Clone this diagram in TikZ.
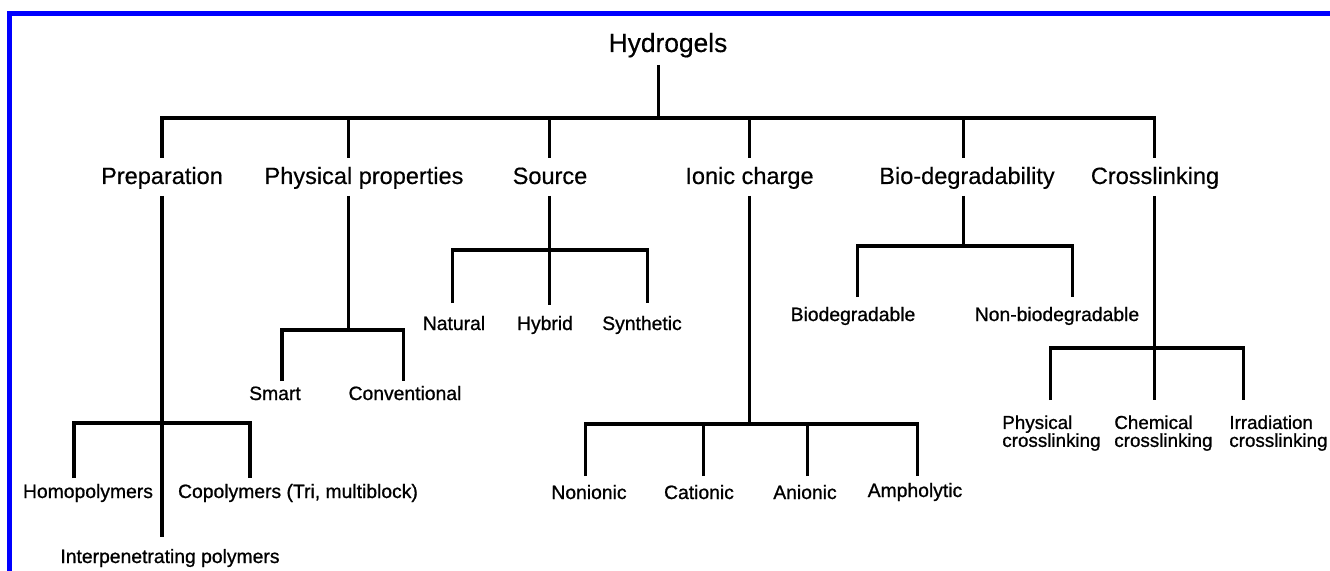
\documentclass[tikz,border=0pt]{standalone}
\usepackage{fontspec}
\setmainfont{Liberation Sans}
\newfontfamily\medfont[FakeBold=0.4]{Liberation Sans}
\newfontfamily\semfont[FakeBold=0.9]{Liberation Sans}
\begin{document}
\begin{tikzpicture}[x=0.02cm,y=-0.02cm,
  ln/.style={line width=1.71pt, black, line join=miter},
  frame/.style={line width=2.85pt, blue, line join=miter},
  lroot/.style={inner sep=0pt, anchor=base, font=\medfont\fontsize{15}{18}\selectfont},
  lone/.style={inner sep=0pt, anchor=base, font=\medfont\fontsize{13.4}{16}\selectfont},
  ltwo/.style={inner sep=0pt, anchor=base, font=\semfont\fontsize{11}{13}\selectfont},
  lcross/.style={inner sep=0pt, anchor=north west, align=left, font=\semfont\fontsize{10.7}{10.2}\selectfont}]
\useasboundingbox (0,0) rectangle (1330,571);
\fill[white] (0,0) rectangle (1330,571);
\coordinate (fr-a) at (1330,13.5);
\coordinate (fr-b) at (9.5,13.5);
\coordinate (fr-c) at (9.5,571);
\draw[frame] (fr-a) -- (fr-b) -- (fr-c);

% labels
\node[lroot] (hyd) at (668,52) {Hydrogels};
\node[lone] (prep) at (162,184) {Preparation};
\node[lone] (phys) at (364,184) {Physical properties};
\node[lone] (src) at (550,184) {Source};
\node[lone] (ion) at (749.5,184) {Ionic charge};
\node[lone] (bio) at (967,184) {Bio-degradability};
\node[lone] (cross) at (1155,184) {Crosslinking};

\node[ltwo] (homo) at (88,498) {Homopolymers};
\node[ltwo] (copo) at (298,498) {Copolymers (Tri, multiblock)};
\node[ltwo] (inter) at (170,563) {Interpenetrating polymers};
\node[ltwo] (smart) at (275,400) {Smart};
\node[ltwo] (conv) at (405,400) {Conventional};
\node[ltwo] (nat) at (454,330) {Natural};
\node[ltwo] (hyb) at (545,330) {Hybrid};
\node[ltwo] (syn) at (642,330) {Synthetic};
\node[ltwo] (non) at (589,499) {Nonionic};
\node[ltwo] (cat) at (699,499) {Cationic};
\node[ltwo] (ani) at (805,499) {Anionic};
\node[ltwo] (amp) at (915,497) {Ampholytic};
\node[ltwo] (biod) at (853,321) {Biodegradable};
\node[ltwo] (nbio) at (1057,321) {Non-biodegradable};
\node[lcross] (phc) at (1002,415) {Physical\\crosslinking};
\node[lcross] (chc) at (1114,415) {Chemical\\crosslinking};
\node[lcross] (irc) at (1229,415) {Irradiation\\crosslinking};

% connector end points
\coordinate (hyd-dn) at (658,65);
\coordinate (L1) at (658,118);
\foreach \n/\x in {prep/162, phys/348, src/549, ion/749, bio/963, cross/1154}{
  \coordinate (\n-up) at (\x,158);
}
\coordinate (prep-dn) at (162,196);
\coordinate (phys-dn) at (348,196);
\coordinate (src-dn) at (549,196);
\coordinate (ion-dn) at (749,196);
\coordinate (bio-dn) at (963,196);
\coordinate (cross-dn) at (1154,196);

\coordinate (prep-bar) at (162,423);
\coordinate (homo-up) at (74,478);
\coordinate (copo-up) at (250,478);
\coordinate (inter-up) at (162,537);

\coordinate (phys-bar) at (348,330);
\coordinate (smart-up) at (282,381);
\coordinate (conv-up) at (403,381);

\coordinate (src-bar) at (549,250);
\coordinate (nat-up) at (452,303);
\coordinate (hyb-up) at (549,305);
\coordinate (syn-up) at (647,303);

\coordinate (ion-bar) at (749,424);
\coordinate (non-up) at (585,476);
\coordinate (cat-up) at (703,476);
\coordinate (ani-up) at (807,476);
\coordinate (amp-up) at (917,476);

\coordinate (bio-bar) at (963,246);
\coordinate (biod-up) at (857,297);
\coordinate (nbio-up) at (1072,297);

\coordinate (cross-bar) at (1154,348);
\coordinate (phc-up) at (1050,400);
\coordinate (chc-up) at (1154,400);
\coordinate (irc-up) at (1243,400);

% connectors
\draw[ln] (hyd-dn) -- (L1);
\draw[ln] (prep-up) |- (L1) -| (cross-up);
\foreach \n in {phys,src,ion,bio}{ \draw[ln] (\n-up) -- (\n-up |- L1); }

\draw[ln] (prep-dn) -- (inter-up);
\draw[ln] (homo-up) |- (prep-bar) -| (copo-up);

\draw[ln] (phys-dn) -- (phys-bar);
\draw[ln] (smart-up) |- (phys-bar) -| (conv-up);

\draw[ln] (src-dn) -- (hyb-up);
\draw[ln] (nat-up) |- (src-bar) -| (syn-up);

\draw[ln] (ion-dn) -- (ion-bar);
\draw[ln] (non-up) |- (ion-bar) -| (amp-up);
\draw[ln] (cat-up) -- (cat-up |- ion-bar);
\draw[ln] (ani-up) -- (ani-up |- ion-bar);

\draw[ln] (bio-dn) -- (bio-bar);
\draw[ln] (biod-up) |- (bio-bar) -| (nbio-up);

\draw[ln] (cross-dn) -- (chc-up);
\draw[ln] (phc-up) |- (cross-bar) -| (irc-up);
\end{tikzpicture}
\end{document}
